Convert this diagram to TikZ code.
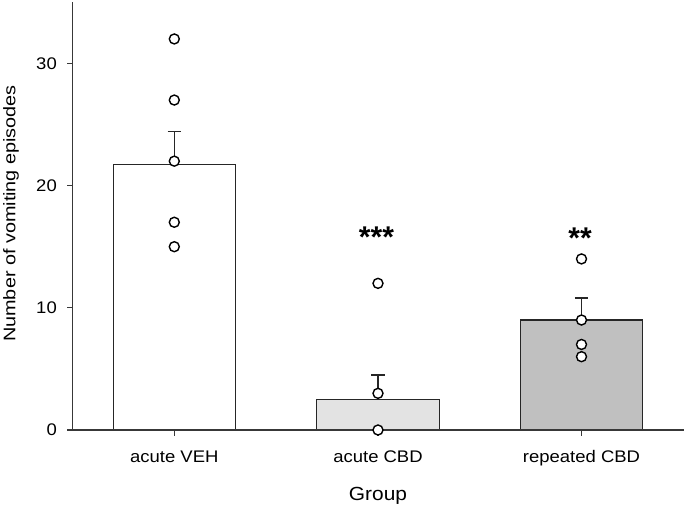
\documentclass[tikz,border=0pt]{standalone}
\usepackage{fontspec}
\usepackage{graphicx}
\setmainfont{Liberation Sans}
\definecolor{barlight}{HTML}{E3E3E3}
\definecolor{bardark}{HTML}{C0C0C0}
\begin{document}
\begin{tikzpicture}[x=1pt,y=1pt,
  axisline/.style={draw=black!78, line width=1.1pt},
  barbox/.style={draw=black!85, line width=1.1pt},
  errline/.style={draw=black!85, line width=1.1pt},
  datapt/.style={circle, draw=black, fill=white, line width=1.4pt, minimum size=10pt, inner sep=0pt},
  ticklab/.style={inner sep=0pt, font=\fontsize{16.8}{18}\selectfont},
  grouplab/.style={inner sep=0pt, font=\fontsize{19}{21}\selectfont},
  starlab/.style={inner sep=0pt, font=\fontsize{30}{32}\selectfont\bfseries}
]
\useasboundingbox (0,0) rectangle (685,506);

\begin{scope}[shift={(0,76)}, y=12.22pt]
  % bars
  \filldraw[barbox, fill=white] (113.3,0) rectangle (235.3,21.7);
  \filldraw[barbox, fill=barlight] (316.7,0) rectangle (439.3,2.5);
  \filldraw[barbox, fill=bardark] (520.3,0) rectangle (642.7,9.0);
  % error bars
  \draw[errline] (174.3,21.7) -- (174.3,24.4);
  \draw[errline] (167.6,24.4) -- (181.0,24.4);
  \draw[errline] (378.0,2.5) -- (378.0,4.5);
  \draw[errline] (371.3,4.5) -- (384.7,4.5);
  \draw[errline] (581.5,9.0) -- (581.5,10.8);
  \draw[errline] (574.8,10.8) -- (588.2,10.8);
  % axes
  \draw[axisline] (72.5,0) -- (72.5,35.0);
  \draw[axisline] (72.5,0) -- (684,0);
  \foreach \v in {0,10,20,30} {
    \draw[axisline] (67,\v) -- (72.5,\v);
    \node[ticklab, anchor=east] (t\v) at (57,\v) {\scalebox{1.1}[1]{\v}};
  }
  \foreach \cx in {174.3,378.0,581.5} {
    \draw[axisline] (\cx,0) -- (\cx,-0.5);
  }
  % data points
  \node[datapt] (v1) at (174.3,32) {};
  \node[datapt] (v2) at (174.3,27) {};
  \node[datapt] (v3) at (174.3,22) {};
  \node[datapt] (v4) at (174.3,17) {};
  \node[datapt] (v5) at (174.3,15) {};
  \node[datapt] (c1) at (378.0,12) {};
  \node[datapt] (c2) at (378.0,3) {};
  \node[datapt] (c3) at (378.0,0) {};
  \node[datapt] (r1) at (581.5,14) {};
  \node[datapt] (r2) at (581.5,9) {};
  \node[datapt] (r3) at (581.5,7) {};
  \node[datapt] (r4) at (581.5,6) {};
\end{scope}

% significance stars
\node[starlab, anchor=north] (s1) at (376.5,279.3) {***};
\node[starlab, anchor=north] (s2) at (580,278.3) {**};

% category labels
\node[ticklab, anchor=base] (cveh) at (174.3,43.3) {\scalebox{1.1}[1]{acute VEH}};
\node[ticklab, anchor=base] (ccbd) at (378.0,43.3) {\scalebox{1.1}[1]{acute CBD}};
\node[ticklab, anchor=base] (crep) at (581.5,43.3) {\scalebox{1.1}[1]{repeated CBD}};

% axis titles
\node[grouplab, anchor=base] (grp) at (378,5.5) {\scalebox{1.1}[1]{Group}};
\node[ticklab, rotate=90, anchor=base, font=\fontsize{16.8}{18}\selectfont] (ylab) at (15.3,292.5) {\scalebox{1.18}[1]{Number of vomiting episodes}};
\end{tikzpicture}
\end{document}
